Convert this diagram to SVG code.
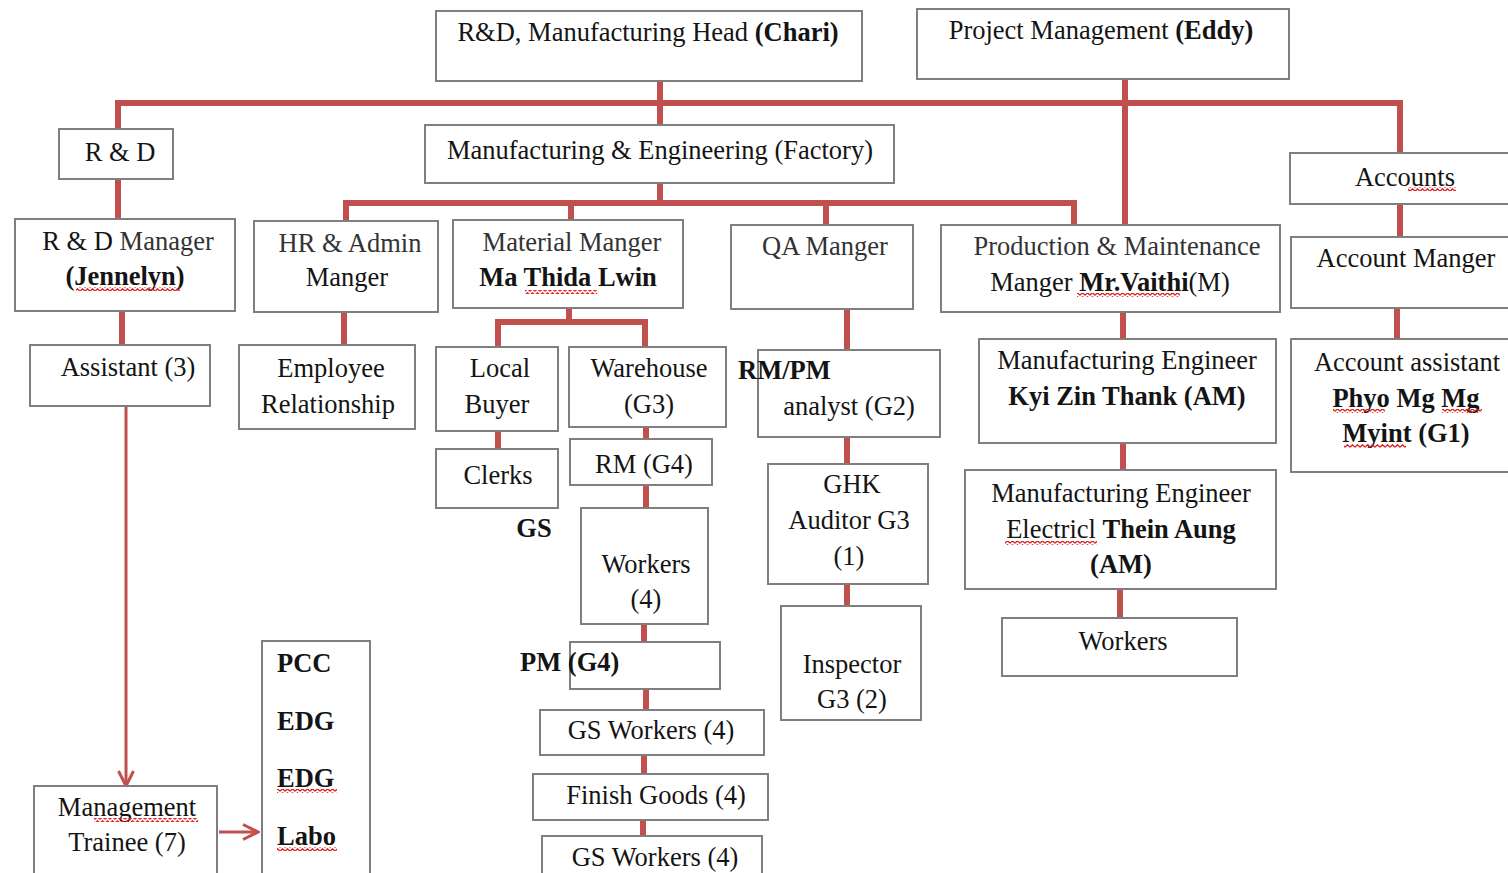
<svg xmlns="http://www.w3.org/2000/svg" width="1508" height="873" viewBox="0 0 1508 873">
  <defs>
    <style>
      .box { fill: #ffffff; stroke: #7f7f7f; stroke-width: 2; }
      .conn { stroke: #c0504d; stroke-width: 6; fill: none; }
      .thin { stroke: #c0504d; stroke-width: 3; fill: none; }
      .t { font-family: "Liberation Serif", "Times New Roman", serif; font-size: 26.5px; fill: #141414; text-anchor: middle; }
      .s { fill: #333333; }
      .b { font-weight: bold; }
      .l { text-anchor: start; }
      .sq { fill: url(#squig); }
    </style>
    <!-- spell-check style wavy underline -->
    <pattern id="squig" x="0" y="0" width="5" height="4" patternUnits="userSpaceOnUse">
      <path d="M0,3.2 L2.5,0.8 L5,3.2" fill="none" stroke="#e02020" stroke-width="1.3"/>
    </pattern>
    <marker id="arrow" viewBox="0 0 12 12" refX="11" refY="6" markerWidth="6" markerHeight="6" orient="auto" markerUnits="strokeWidth">
      <path d="M1,1 L11,6 L1,11" fill="none" stroke="#c0504d" stroke-width="2"/>
    </marker>
  </defs>

  <rect width="1508" height="873" fill="#ffffff"/>

  <!-- connectors -->
  <g id="connectors">
    <path class="conn" d="M660,81 V125 M118,129 V103 H1400 V153 M1125,79 V225"/>
    <path class="conn" d="M660,183 V203 M346,221 V203 H1074 V225 M571,203 V220 M826,203 V225"/>
    <path class="conn" d="M118,179 V219 M122,311 V345 M344,312 V345"/>
    <path class="conn" d="M569,308 V322 M498,347 V322 H645 V347 M498,431 V449 M646,427 V439 M646,485 V508 M644,624 V642 M646,689 V710 M644,755 V774 M643,820 V836"/>
    <path class="conn" d="M847,309 V350 M847,437 V464 M847,584 V606"/>
    <path class="conn" d="M1123,312 V339 M1123,443 V470 M1120,589 V618 M1400,204 V237 M1397,308 V339"/>
    <path class="thin" d="M126,406 V786" marker-end="url(#arrow)"/>
    <path class="thin" d="M219,832 H258" marker-end="url(#arrow)"/>
  </g>

  <!-- top level -->
  <g id="head">
    <rect class="box" x="436" y="11" width="426" height="70"/>
    <text class="t" x="648" y="41">R&amp;D, Manufacturing Head <tspan class="b">(Chari)</tspan></text>
  </g>
  <g id="project">
    <rect class="box" x="917" y="9" width="372" height="70"/>
    <text class="t" x="1101" y="39">Project Management <tspan class="b">(Eddy)</tspan></text>
  </g>

  <!-- second level -->
  <g id="rnd">
    <rect class="box" x="59" y="129" width="114" height="50"/>
    <text class="t" x="120" y="161">R &amp; D</text>
  </g>
  <g id="factory">
    <rect class="box" x="425" y="125" width="469" height="58"/>
    <text class="t" x="660" y="159">Manufacturing &amp; Engineering (Factory)</text>
  </g>
  <g id="accounts">
    <rect class="box" x="1290" y="153" width="222" height="51"/>
    <text class="t" x="1405" y="186">Accounts</text>
    <rect class="sq" x="1408" y="187" width="48" height="4"/>
  </g>

  <!-- managers -->
  <g id="rnd-manager">
    <rect class="box" x="15" y="219" width="220" height="92"/>
    <text class="t" x="128" y="250">R &amp; D <tspan class="s">Manager</tspan></text>
    <text class="t b" x="125" y="285">(Jennelyn)</text>
    <rect class="sq" x="76" y="287" width="104" height="4"/>
  </g>
  <g id="hr-manager">
    <rect class="box" x="254" y="221" width="184" height="91"/>
    <text class="t s" x="350" y="252">HR &amp; Admin</text>
    <text class="t" x="347" y="286">Manger</text>
  </g>
  <g id="material-manager">
    <rect class="box" x="453" y="220" width="230" height="88"/>
    <text class="t s" x="572" y="251">Material Manger</text>
    <text class="t b" x="568" y="286">Ma Thida Lwin</text>
    <rect class="sq" x="525" y="290" width="72" height="4"/>
  </g>
  <g id="qa-manager">
    <rect class="box" x="731" y="225" width="182" height="84"/>
    <text class="t s" x="825" y="255">QA Manger</text>
  </g>
  <g id="production-manager">
    <rect class="box" x="941" y="225" width="339" height="87"/>
    <text class="t s" x="1117" y="255">Production &amp; Maintenance</text>
    <text class="t" x="1110" y="291">Manger <tspan class="b">Mr.Vaithi</tspan>(M)</text>
    <rect class="sq" x="1077" y="293" width="103" height="4"/>
  </g>
  <g id="account-manager">
    <rect class="box" x="1291" y="237" width="221" height="71"/>
    <text class="t" x="1406" y="267">Account Manger</text>
  </g>

  <!-- R&D branch -->
  <g id="assistant">
    <rect class="box" x="30" y="345" width="180" height="61"/>
    <text class="t" x="128" y="376">Assistant (3)</text>
  </g>
  <g id="trainee">
    <rect class="box" x="34" y="786" width="183" height="92"/>
    <text class="t" x="127" y="816">Management</text>
    <rect class="sq" x="94" y="818" width="104" height="4"/>
    <text class="t" x="127" y="851">Trainee (7)</text>
  </g>
  <g id="teams">
    <rect class="box" x="262" y="641" width="108" height="240"/>
    <text class="t b l" x="277" y="672">PCC</text>
    <text class="t b l" x="277" y="730">EDG</text>
    <text class="t b l" x="277" y="787">EDG</text>
    <rect class="sq" x="277" y="789" width="60" height="4"/>
    <text class="t b l" x="277" y="845">Labo</text>
    <rect class="sq" x="277" y="847" width="60" height="4"/>
  </g>

  <!-- HR branch -->
  <g id="employee-relationship">
    <rect class="box" x="239" y="345" width="176" height="84"/>
    <text class="t" x="331" y="377">Employee</text>
    <text class="t" x="328" y="413">Relationship</text>
  </g>

  <!-- material branch -->
  <g id="local-buyer">
    <rect class="box" x="436" y="347" width="122" height="84"/>
    <text class="t" x="500" y="377">Local</text>
    <text class="t" x="497" y="413">Buyer</text>
  </g>
  <g id="clerks">
    <rect class="box" x="436" y="449" width="122" height="59"/>
    <text class="t" x="498" y="484">Clerks</text>
  </g>
  <g id="warehouse">
    <rect class="box" x="569" y="347" width="157" height="80"/>
    <text class="t" x="649" y="377">Warehouse</text>
    <text class="t" x="649" y="413">(G3)</text>
  </g>
  <g id="rm">
    <rect class="box" x="570" y="439" width="142" height="46"/>
    <text class="t" x="644" y="473">RM (G4)</text>
  </g>
  <g id="gs-label">
    <text class="t b" x="534" y="537">GS</text>
  </g>
  <g id="workers-rm">
    <rect class="box" x="581" y="508" width="127" height="116"/>
    <text class="t" x="646" y="573">Workers</text>
    <text class="t" x="646" y="608">(4)</text>
  </g>
  <g id="pm">
    <rect class="box" x="570" y="642" width="150" height="47"/>
    <text class="t b l" x="520" y="671">PM (G4)</text>
  </g>
  <g id="gs-workers-1">
    <rect class="box" x="540" y="710" width="224" height="45"/>
    <text class="t" x="651" y="739">GS Workers (4)</text>
  </g>
  <g id="finish-goods">
    <rect class="box" x="533" y="774" width="235" height="46"/>
    <text class="t" x="656" y="804">Finish Goods (4)</text>
  </g>
  <g id="gs-workers-2">
    <rect class="box" x="542" y="836" width="220" height="45"/>
    <text class="t" x="655" y="866">GS Workers (4)</text>
  </g>

  <!-- QA branch -->
  <g id="analyst">
    <rect class="box" x="758" y="350" width="182" height="87"/>
    <text class="t b l" x="738" y="379">RM/PM</text>
    <text class="t" x="849" y="415">analyst (G2)</text>
  </g>
  <g id="auditor">
    <rect class="box" x="768" y="464" width="160" height="120"/>
    <text class="t" x="852" y="493">GHK</text>
    <text class="t" x="849" y="529">Auditor G3</text>
    <text class="t" x="849" y="565">(1)</text>
  </g>
  <g id="inspector">
    <rect class="box" x="781" y="606" width="140" height="114"/>
    <text class="t" x="852" y="673">Inspector</text>
    <text class="t" x="852" y="708">G3 (2)</text>
  </g>

  <!-- production branch -->
  <g id="engineer-1">
    <rect class="box" x="979" y="339" width="297" height="104"/>
    <text class="t" x="1127" y="369">Manufacturing Engineer</text>
    <text class="t b" x="1127" y="405">Kyi Zin Thank (AM)</text>
  </g>
  <g id="engineer-2">
    <rect class="box" x="965" y="470" width="311" height="119"/>
    <text class="t" x="1121" y="502">Manufacturing Engineer</text>
    <text class="t" x="1121" y="538">Electricl <tspan class="b">Thein Aung</tspan></text>
    <rect class="sq" x="1005" y="541" width="92" height="4"/>
    <text class="t b" x="1121" y="573">(AM)</text>
  </g>
  <g id="workers-prod">
    <rect class="box" x="1002" y="618" width="235" height="58"/>
    <text class="t" x="1123" y="650">Workers</text>
  </g>

  <!-- accounts branch -->
  <g id="account-assistant">
    <rect class="box" x="1291" y="339" width="221" height="133"/>
    <text class="t" x="1407" y="371">Account assistant</text>
    <text class="t b" x="1406" y="407">Phyo Mg Mg</text>
    <rect class="sq" x="1333" y="409" width="52" height="4"/>
    <rect class="sq" x="1442" y="409" width="40" height="4"/>
    <text class="t b" x="1406" y="442">Myint (G1)</text>
    <rect class="sq" x="1344" y="444" width="62" height="4"/>
  </g>
</svg>
